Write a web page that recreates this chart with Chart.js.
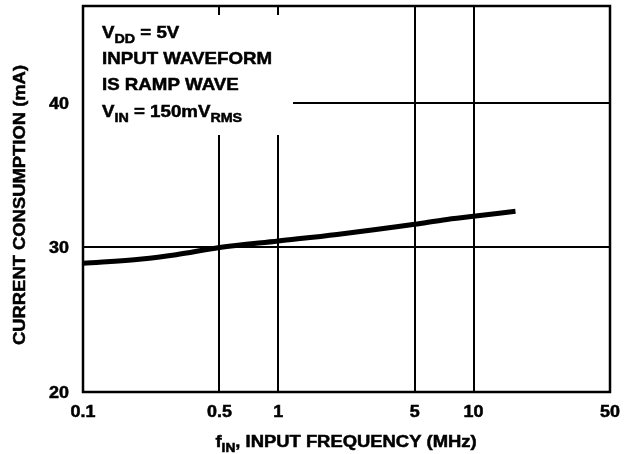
<!DOCTYPE html>
<html lang="en">
<head>
  <meta charset="UTF-8">
  <title>Current Consumption vs Input Frequency</title>
  <script src="https://cdn.jsdelivr.net/npm/chart.js"></script>
  <style>
    html, body { margin: 0; padding: 0; background: #fff; }
    #wrap { width: 629px; height: 454px; }
  </style>
</head>
<body>
<div id="wrap"><canvas id="grafico"></canvas></div>
<script>
// data
const freqMHz   = [0.1, 0.2, 0.3, 0.5, 1, 2, 5, 7, 10, 16.4];
const currentMA = [28.9, 29.2, 29.5, 30.0, 30.45, 30.9, 31.6, 31.9, 32.15, 32.5];

const xTicks = [0.1, 0.5, 1, 5, 10, 50];
const yTicks = [20, 30, 40];
const xGrid = [0.5, 1, 5, 10];
const yGrid = [30, 40];

const FONT = '"Liberation Sans", Arial, sans-serif';

// draws text made of [str, isSub] parts, horizontally stretched, a bit heavier than plain bold
function richText(ctx, parts, x, y, size, align, hs) {
  const fontFor = p => 'bold ' + (p[1] ? Math.round(size * 0.78) : size) + 'px ' + FONT;
  const widths = parts.map(p => { ctx.font = fontFor(p); return ctx.measureText(p[0]).width * hs; });
  const total = widths.reduce((a, b) => a + b, 0);
  let cx = x;
  if (align === 'center') cx = x - total / 2;
  if (align === 'right') cx = x - total;
  ctx.save();
  ctx.textAlign = 'left';
  ctx.textBaseline = 'alphabetic';
  ctx.fillStyle = '#000';
  ctx.strokeStyle = '#000';
  ctx.lineWidth = 0.5;
  parts.forEach((p, i) => {
    ctx.font = fontFor(p);
    ctx.save();
    ctx.translate(cx, p[1] ? y + size * 0.3 : y);
    ctx.scale(hs, 1);
    ctx.fillText(p[0], 0, 0);
    ctx.strokeText(p[0], 0, 0);
    ctx.restore();
    cx += widths[i];
  });
  ctx.restore();
  return total;
}

const decor = {
  id: 'decor',
  beforeDatasetsDraw(chart) {
    const ctx = chart.ctx;
    const a = chart.chartArea;
    ctx.save();
    // white box behind the conditions text
    ctx.fillStyle = '#fff';
    ctx.fillRect(a.left + 1, 15, 209, 120);
    const s = 17, hs = 1.1;
    richText(ctx, [['V', 0], ['DD', 1], [' = 5V', 0]], 102, 38, s, 'left', hs);
    richText(ctx, [['INPUT WAVEFORM', 0]], 102, 64, s, 'left', hs);
    richText(ctx, [['IS RAMP WAVE', 0]], 102, 90, s, 'left', hs);
    richText(ctx, [['V', 0], ['IN', 1], [' = 150mV', 0], ['RMS', 1]], 102, 117, s, 'left', hs);
    ctx.restore();
  },
  afterDraw(chart) {
    const ctx = chart.ctx;
    const a = chart.chartArea;
    const xs = chart.scales.x, ys = chart.scales.y;
    ctx.save();
    ctx.strokeStyle = '#000';
    ctx.lineWidth = 2.5;
    ctx.strokeRect(a.left, a.top, a.right - a.left, a.bottom - a.top);
    // tick labels
    xTicks.forEach(v => richText(ctx, [[String(v), 0]], xs.getPixelForValue(v), a.bottom + 25, 16, 'center', 1.12));
    yTicks.forEach(v => richText(ctx, [[String(v), 0]], a.left - 14, ys.getPixelForValue(v) + 6, 16, 'right', 1.12));
    // x title
    richText(ctx, [['f', 0], ['IN', 1], [', INPUT FREQUENCY (MHz)', 0]], 346, 447, 16, 'center', 1.15);
    // y title
    ctx.translate(25, 205);
    ctx.rotate(-Math.PI / 2);
    richText(ctx, [['CURRENT CONSUMPTION (mA)', 0]], 0, 0, 16, 'center', 1.15);
    ctx.restore();
  }
};

new Chart(document.getElementById('grafico').getContext('2d'), {
  type: 'line',
  data: {
    datasets: [{
      data: freqMHz.map((f, i) => ({ x: f, y: currentMA[i] })),
      borderColor: '#000',
      borderWidth: 5,
      pointRadius: 0,
      fill: false,
      cubicInterpolationMode: 'monotone'
    }]
  },
  options: {
    responsive: true,
    maintainAspectRatio: false,
    animation: false,
    layout: { padding: { top: 6, right: 19, left: 0, bottom: 0 } },
    plugins: { legend: { display: false }, tooltip: { enabled: false } },
    scales: {
      x: {
        type: 'logarithmic',
        min: 0.1,
        max: 50,
        afterBuildTicks: s => { s.ticks = xTicks.map(v => ({ value: v })); },
        afterFit: s => { s.height = 62; s.paddingLeft = 0; s.paddingRight = 0; },
        ticks: { display: false },
        grid: {
          drawTicks: false,
          lineWidth: 2,
          color: c => xGrid.includes(c.tick && c.tick.value) ? '#000' : 'rgba(0,0,0,0)'
        },
        border: { display: false }
      },
      y: {
        min: 20,
        max: 46.7,
        afterBuildTicks: s => { s.ticks = yTicks.map(v => ({ value: v })); },
        afterFit: s => { s.width = 83; s.paddingTop = 0; s.paddingBottom = 0; },
        ticks: { display: false },
        grid: {
          drawTicks: false,
          lineWidth: 2,
          color: c => yGrid.includes(c.tick && c.tick.value) ? '#000' : 'rgba(0,0,0,0)'
        },
        border: { display: false }
      }
    }
  },
  plugins: [decor]
});
</script>
</body>
</html>
